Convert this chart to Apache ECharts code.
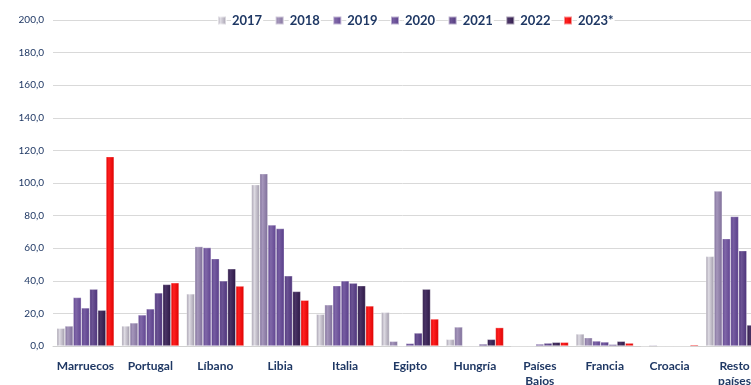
<!DOCTYPE html>
<html>
<head>
<meta charset="utf-8">
<script src="https://cdn.jsdelivr.net/npm/echarts@6/dist/echarts.min.js"></script>
<style>
  html, body { margin: 0; padding: 0; background: #fff; }
  #chart { width: 751px; height: 385px; }
</style>
</head>
<body>
<div id="chart"></div>
<script>
// Countries (categories along the x axis)
const categories = ['Marruecos', 'Portugal', 'Líbano', 'Libia', 'Italia', 'Egipto',
  'Hungría', 'Países\nBajos', 'Francia', 'Croacia', 'Resto\npaíses'];

// Years shown in the legend
const years = ['2017', '2018', '2019', '2020', '2021', '2022', '2023*'];

// Values per year, one entry per country
const v2017 = [10.9, 12.3, 32.0, 99.0, 19.5, 20.7, 4.1, 0.0, 7.4, 0.0, 55.0];
const v2018 = [12.3, 14.2, 61.0, 105.7, 25.3, 2.9, 11.7, 0.0, 5.1, 0.6, 95.1];
const v2019 = [29.8, 19.1, 60.4, 74.3, 37.0, 0.0, 0.0, 0.0, 3.1, 0.0, 65.9];
const v2020 = [23.4, 22.8, 53.6, 72.1, 40.0, 1.6, 0.0, 1.2, 2.5, 0.0, 79.5];
const v2021 = [34.9, 32.6, 40.0, 43.1, 38.6, 8.0, 1.2, 1.8, 1.0, 0.0, 58.5];
const v2022 = [22.0, 37.8, 47.4, 33.5, 37.0, 34.9, 4.1, 2.3, 2.9, 0.0, 12.9];
const v2023 = [116.2, 38.8, 36.8, 28.1, 24.6, 16.6, 11.3, 2.3, 1.8, 0.8, 30.0];

// Y axis ticks
const yMin = 0;
const yMax = 200;
const yStep = 20;

const seriesValues = [v2017, v2018, v2019, v2020, v2021, v2022, v2023];

// Base colour of each year: [edge, highlight]
const palette = [
  ['#9f99a9', '#dedbe3'],
  ['#7d6d98', '#a596bb'],
  ['#5f4290', '#8068a8'],
  ['#573c88', '#775ea2'],
  ['#4c327a', '#6c5494'],
  ['#2c1745', '#4a3466'],
  ['#dc0000', '#ff2020']
];

function cylinder(c) {
  return new echarts.graphic.LinearGradient(0, 0, 1, 0, [
    { offset: 0, color: c[0] },
    { offset: 0.35, color: c[1] },
    { offset: 1, color: c[0] }
  ]);
}

const navy = '#1f3864';
const font = 'Lato, "Open Sans", sans-serif';

const chart = echarts.init(document.getElementById('chart'), null, { renderer: 'canvas' });

chart.setOption({
  animation: false,
  backgroundColor: '#ffffff',
  textStyle: { fontFamily: font },
  legend: {
    data: years,
    left: 217,
    top: 13,
    padding: 0,
    itemWidth: 8,
    itemHeight: 8,
    itemGap: 11.5,
    icon: 'rect',
    textStyle: {
      fontFamily: font,
      fontSize: 13,
      fontWeight: 'bold',
      color: navy,
      backgroundColor: '#ffffff',
      padding: [1, 1, 1, 1]
    }
  },
  grid: {
    left: 53,
    width: 714,
    top: 20,
    bottom: 39,
    containLabel: false,
    outerBoundsMode: 'none'
  },
  xAxis: {
    type: 'category',
    data: categories,
    axisLine: { lineStyle: { color: '#d0d0d0', width: 1 } },
    axisTick: { show: false },
    axisLabel: {
      interval: 0,
      margin: 13,
      fontFamily: font,
      fontSize: 12,
      fontWeight: 'bold',
      color: navy,
      lineHeight: 15
    }
  },
  yAxis: {
    type: 'value',
    min: yMin,
    max: yMax,
    interval: yStep,
    axisLine: { show: false },
    axisTick: { show: false },
    splitLine: { lineStyle: { color: '#d9d9d9', width: 1 } },
    axisLabel: {
      margin: 9,
      fontFamily: font,
      fontSize: 10,
      color: navy,
      formatter: v => v.toFixed(1).replace('.', ',')
    }
  },
  series: years.map((y, i) => ({
    name: y,
    type: 'bar',
    data: seriesValues[i],
    barGap: '0%',
    barCategoryGap: '11.5%',
    itemStyle: {
      color: cylinder(palette[i]),
      borderColor: 'rgba(255,255,255,0.55)',
      borderWidth: 0.6
    }
  }))
});
</script>
</body>
</html>
